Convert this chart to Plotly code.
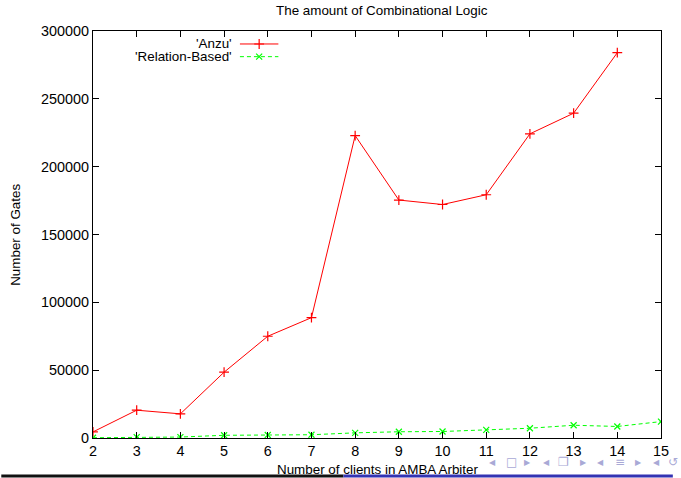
import plotly.graph_objects as go

# Number of clients in the AMBA arbiter
clients = [2, 3, 4, 5, 6, 7, 8, 9, 10, 11, 12, 13, 14, 15]

# Gate counts for each synthesis approach
anzu_clients = [2, 3, 4, 5, 6, 7, 8, 9, 10, 11, 12, 13, 14]
anzu_gates = [4500, 20500, 17800, 48500, 75000, 88700, 222900, 175400,
              172100, 179300, 224200, 239400, 284000]
relation_gates = [200, 600, 700, 2000, 2200, 2400, 3800, 4600, 4800,
                  6000, 7200, 9400, 8500, 12100]

y_ticks = [0, 50000, 100000, 150000, 200000, 250000, 300000]

W, H = 681, 478
L, R, T, B = 93, 12, 31, 39.5
PW, PH = W - L - R, H - T - B

RED = "#ff0000"
GREEN = "#00ff00"
FONT = "Liberation Sans, Arial, Helvetica, sans-serif"
TXT = 13.4


def px_x(x):
    return (x - L) / PW


def px_y(y):
    return (H - B - y) / PH


fig = go.Figure()

fig.add_trace(go.Scatter(
    x=anzu_clients, y=anzu_gates, mode="lines+markers", name="'Anzu'",
    line=dict(color=RED, width=1),
    marker=dict(symbol="cross-thin", size=7, color=RED,
                line=dict(color=RED, width=1.2)),
    showlegend=False,
))
fig.add_trace(go.Scatter(
    x=clients, y=relation_gates, mode="lines+markers", name="'Relation-Based'",
    line=dict(color=GREEN, width=1, dash="4px,3px"),
    marker=dict(symbol="x-thin", size=6, color=GREEN,
                line=dict(color=GREEN, width=1.2)),
    showlegend=False,
))

# Key samples drawn on an overlay axis spanning the whole plot area
key_rows = [("'Anzu'", RED, "solid", "cross-thin", 7, 44),
            ("'Relation-Based'", GREEN, "4px,3px", "x-thin", 6, 56.7)]
for label, color, dash, sym, msize, ypx in key_rows:
    fig.add_trace(go.Scatter(
        x=[px_x(242), px_x(281)], y=[px_y(ypx)] * 2, mode="lines",
        line=dict(color=color, width=1, dash=dash),
        xaxis="x2", yaxis="y2", showlegend=False, hoverinfo="skip",
    ))
    fig.add_trace(go.Scatter(
        x=[px_x(261.5)], y=[px_y(ypx)], mode="markers",
        marker=dict(symbol=sym, size=msize, color=color,
                    line=dict(color=color, width=1.2)),
        xaxis="x2", yaxis="y2", showlegend=False, hoverinfo="skip",
    ))
    fig.add_annotation(
        x=px_x(236), y=px_y(ypx), xref="paper", yref="paper",
        text=label, showarrow=False, xanchor="right", yanchor="middle",
        font=dict(size=TXT, color="black", family=FONT),
    )

axis_common = dict(
    showgrid=False, zeroline=False, showline=True, linecolor="black",
    linewidth=1, mirror="ticks", ticks="inside", ticklen=6,
    tickcolor="black", tickwidth=1,
    tickfont=dict(size=14.4, color="black", family=FONT),
)

fig.update_layout(
    width=W, height=H,
    margin=dict(l=L, r=R, t=T, b=B, pad=0),
    paper_bgcolor="white", plot_bgcolor="white",
    font=dict(family=FONT, color="black"),
    xaxis=dict(range=[2, 15], tickvals=clients, **axis_common),
    yaxis=dict(range=[0, 300000], tickvals=y_ticks,
               ticktext=[str(v) for v in y_ticks], **axis_common),
    xaxis2=dict(range=[0, 1], overlaying="x", visible=False),
    yaxis2=dict(range=[0, 1], overlaying="y", visible=False),
)

# Title and axis titles
fig.add_annotation(
    x=px_x(386), y=px_y(10), xref="paper", yref="paper",
    text="The amount of Combinational Logic", showarrow=False,
    xanchor="center", yanchor="middle",
    font=dict(size=TXT, color="black", family=FONT),
)
fig.add_annotation(
    x=px_x(15), y=px_y(235), xref="paper", yref="paper",
    text="Number of Gates", showarrow=False, textangle=-90,
    xanchor="center", yanchor="middle",
    font=dict(size=TXT, color="black", family=FONT),
)
fig.add_annotation(
    x=px_x(381), y=px_y(470), xref="paper", yref="paper",
    text="Number of clients in AMBA Arbiter", showarrow=False,
    xanchor="center", yanchor="middle",
    font=dict(size=TXT, color="black", family=FONT),
)

# Slide navigation symbols along the bottom edge
nav = [("◀", 498), ("□", 517), ("▶", 534), ("◀", 553), ("❐", 570),
       ("▶", 590), ("◀", 608), ("≡", 627), ("▶", 646), ("◀", 664),
       ("↺", 681)]
for sym, xpx in nav:
    small = sym in ("◀", "▶")
    fig.add_annotation(
        x=px_x(xpx), y=px_y(463), xref="paper", yref="paper",
        text=sym, showarrow=False, xanchor="center", yanchor="middle",
        font=dict(size=8 if small else 12, color="#a9a9d6",
                  family="DejaVu Sans"),
    )

# Footer bar of the slide
fig.add_shape(type="rect", xref="paper", yref="paper",
              x0=px_x(0), x1=px_x(347), y0=px_y(478), y1=px_y(475),
              fillcolor="#111111", line=dict(width=0), layer="above")
fig.add_shape(type="rect", xref="paper", yref="paper",
              x0=px_x(347), x1=px_x(681), y0=px_y(478), y1=px_y(475),
              fillcolor="#3333b3", line=dict(width=0), layer="above")

fig.write_html("out.html")
